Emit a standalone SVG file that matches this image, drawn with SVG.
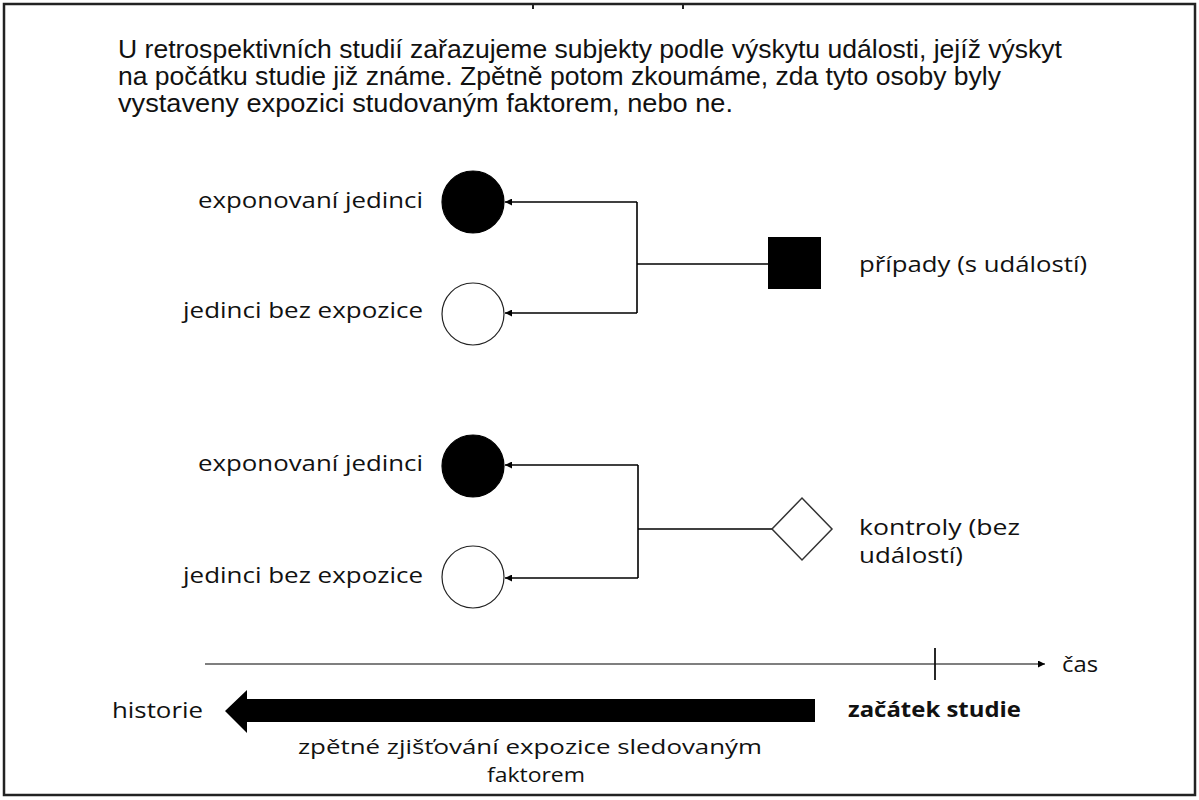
<svg xmlns="http://www.w3.org/2000/svg" width="1199" height="800" viewBox="0 0 1199 800">
<defs>
<style>
.para{font-family:"Liberation Sans",Arial,sans-serif;font-size:25px;fill:#111;}
.lbl{font-family:"Open Sans","Noto Sans",sans-serif;font-size:22px;fill:#111;}
.sm{font-size:20px;}
.bold{font-weight:bold;}
.conn{stroke:#000;stroke-width:1.6;fill:none;}
</style>
<marker id="ah" viewBox="0 0 10 10" refX="10" refY="5" markerWidth="7" markerHeight="7" markerUnits="userSpaceOnUse" orient="auto">
<path d="M0,0 L10,5 L0,10 z" fill="#000"/>
</marker>
</defs>
<rect width="1199" height="800" fill="#fff"/>
<rect x="4" y="4" width="1191" height="791" fill="none" stroke="#222" stroke-width="2.5"/>
<line x1="533" y1="5" x2="533" y2="9" stroke="#222" stroke-width="2"/>
<line x1="683" y1="5" x2="683" y2="9" stroke="#222" stroke-width="2"/>

<g id="intro">
<text class="para" x="118" y="58" textLength="944" lengthAdjust="spacingAndGlyphs">U retrospektivních studií zařazujeme subjekty podle výskytu události,  jejíž výskyt</text>
<text class="para" x="118" y="85" textLength="883" lengthAdjust="spacingAndGlyphs">na počátku studie již známe. Zpětně potom zkoumáme, zda tyto osoby byly</text>
<text class="para" x="118" y="112" textLength="615" lengthAdjust="spacingAndGlyphs">vystaveny expozici studovaným faktorem, nebo ne.</text>
</g>

<g id="connectors">
<polyline class="conn" points="768,264 637,264"/>
<polyline class="conn" points="637,202 637,313"/>
<line class="conn" x1="637" y1="202" x2="505" y2="202" marker-end="url(#ah)"/>
<line class="conn" x1="637" y1="313" x2="505" y2="313" marker-end="url(#ah)"/>
<polyline class="conn" points="772,529 638,529"/>
<polyline class="conn" points="638,465 638,578"/>
<line class="conn" x1="638" y1="465" x2="505" y2="465" marker-end="url(#ah)"/>
<line class="conn" x1="638" y1="578" x2="505" y2="578" marker-end="url(#ah)"/>
</g>

<g id="exposed1">
<circle cx="473" cy="202" r="31" fill="#000" stroke="#000" stroke-width="1.2"/>
<text class="lbl" x="198" y="208" textLength="225" lengthAdjust="spacingAndGlyphs">exponovaní jedinci</text>
</g>
<g id="unexposed1">
<circle cx="473" cy="314" r="31" fill="#fff" stroke="#222" stroke-width="1.2"/>
<text class="lbl" x="183" y="318" textLength="240" lengthAdjust="spacingAndGlyphs">jedinci bez expozice</text>
</g>
<g id="cases">
<rect x="768" y="237" width="53" height="52" fill="#000"/>
<text class="lbl" x="859" y="272" textLength="228" lengthAdjust="spacingAndGlyphs">případy (s událostí)</text>
</g>

<g id="exposed2">
<circle cx="473" cy="466" r="31" fill="#000" stroke="#000" stroke-width="1.2"/>
<text class="lbl" x="198" y="471" textLength="225" lengthAdjust="spacingAndGlyphs">exponovaní jedinci</text>
</g>
<g id="unexposed2">
<circle cx="473" cy="577" r="31" fill="#fff" stroke="#222" stroke-width="1.2"/>
<text class="lbl" x="183" y="583" textLength="240" lengthAdjust="spacingAndGlyphs">jedinci bez expozice</text>
</g>
<g id="controls">
<polygon points="772,529 802,498 832,529 802,560" fill="#fff" stroke="#333" stroke-width="1.5"/>
<text class="lbl" x="859" y="535" textLength="161" lengthAdjust="spacingAndGlyphs">kontroly (bez</text>
<text class="lbl" x="859" y="563" textLength="104" lengthAdjust="spacingAndGlyphs">událostí)</text>
</g>

<g id="timeline">
<line x1="205" y1="664" x2="1045" y2="664" stroke="#555" stroke-width="1.6" marker-end="url(#ah)"/>
<line x1="935" y1="648" x2="935" y2="680" stroke="#111" stroke-width="1.8"/>
<text class="lbl" x="1062" y="672" textLength="36" lengthAdjust="spacingAndGlyphs">čas</text>
<text class="lbl bold" x="848" y="717" textLength="173" lengthAdjust="spacingAndGlyphs">začátek studie</text>
<text class="lbl" x="112" y="718" textLength="91" lengthAdjust="spacingAndGlyphs">historie</text>
<polygon points="225,711 247,690 247,699 815,699 815,722 247,722 247,733" fill="#000"/>
<text class="lbl sm" x="298" y="754" textLength="464" lengthAdjust="spacingAndGlyphs">zpětné zjišťování expozice sledovaným</text>
<text class="lbl sm" x="487" y="782" textLength="98" lengthAdjust="spacingAndGlyphs">faktorem</text>
</g>
</svg>
